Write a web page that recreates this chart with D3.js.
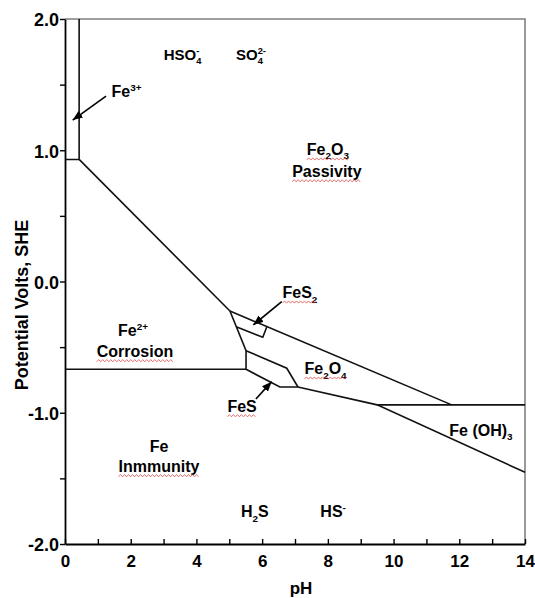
<!DOCTYPE html>
<html><head><meta charset="utf-8">
<script src="https://cdn.jsdelivr.net/npm/d3@7"></script>
<style>
body{margin:0;background:#fff}
text{font-family:"Liberation Sans",Arial,sans-serif;font-weight:bold;fill:#000}
</style>
</head><body><svg id="c" width="535" height="598"></svg>
<script>
// ---------------- data ----------------
const pHTicks = [0,1,2,3,4,5,6,7,8,9,10,11,12,13,14];
const pHTickLabels = [0,2,4,6,8,10,12,14];
const ETicks = [-2,-1.5,-1,-0.5,0,0.5,1,1.5,2];
const ETickLabels = [-2,-1,0,1,2];

// boundary polylines, each point is [pH, E (V vs SHE)]
const fe3Boundary   = [[0.43,2.0],[0.43,0.93],[0,0.93]];
const fe2Fe2O3      = [[0.43,0.93],[5.02,-0.225]];
const fes2Upper     = [[5.02,-0.225],[11.77,-0.94]];
const fes2Left      = [[5.02,-0.225],[5.51,-0.527],[5.51,-0.669]];
const feFe2         = [[0,-0.669],[5.51,-0.669]];
const fes2Fe3O4     = [[5.51,-0.527],[6.75,-0.661],[7.09,-0.804]];
const feLower       = [[5.51,-0.669],[6.54,-0.804],[7.09,-0.804],[9.50,-0.94],[14,-1.454]];
const feOH3Line     = [[9.50,-0.94],[14,-0.94]];
const fes2Box       = [[5.21,-0.344],[6.02,-0.425],[6.14,-0.347]];
const boundaries = [fe3Boundary, fe2Fe2O3, fes2Upper, fes2Left, feFe2, fes2Fe3O4, feLower, feOH3Line, fes2Box];

// annotation arrows [from, to] in [pH, E]
const arrows = [
  [[1.25,1.413],[0.234,1.23]],
  [[6.595,-0.154],[5.73,-0.331]],
  [[5.81,-0.895],[6.29,-0.763]]
];

// labels: text (_{} subscript, ^{} superscript), centre pH, baseline E
const sulfurLabels = [
  {t:"HSO_{4}^{-}", pH:3.58, E:1.688},
  {t:"SO_{4}^{2-}", pH:5.66, E:1.688}
];
const regionLabels = [
  {t:"Fe^{3+}", pH:1.87, E:1.406},
  {t:"Fe_{2}O_{3}", pH:8.0, E:0.964},
  {t:"Passivity", pH:7.97, E:0.798},
  {t:"FeS_{2}", pH:7.15, E:-0.126},
  {t:"Fe^{2+}", pH:2.07, E:-0.415},
  {t:"Corrosion", pH:2.13, E:-0.573},
  {t:"Fe_{2}O_{4}", pH:7.93, E:-0.705},
  {t:"FeS", pH:5.39, E:-0.992},
  {t:"Fe (OH)_{3}", pH:12.66, E:-1.177},
  {t:"Fe", pH:2.86, E:-1.297},
  {t:"Inmmunity", pH:2.86, E:-1.449},
  {t:"H_{2}S", pH:5.78, E:-1.798},
  {t:"HS^{-}", pH:8.16, E:-1.798}
];
const spellFlagged = ["Fe_{2}O_{3}","Passivity","FeS_{2}","Fe_{2}O_{4}","FeS","Corrosion","Inmmunity"];

const xTitle = "pH";
const yTitle = "Potential Volts, SHE";

// ---------------- chart ----------------
const svg = d3.select("#c");
const L = 65, R = 525, T = 19, B = 544;
const x = d3.scaleLinear().domain([0,14]).range([L,R]);
const y = d3.scaleLinear().domain([-2,2]).range([B,T]);

svg.append("defs").append("marker")
  .attr("id","ah").attr("markerUnits","userSpaceOnUse")
  .attr("markerWidth",11).attr("markerHeight",8)
  .attr("refX",10).attr("refY",4).attr("orient","auto")
  .append("path").attr("d","M0,0 L10,4 L0,8 Z").attr("fill","#000");

// top/right frame (grey)
svg.append("path")
  .attr("d",`M${L},${T} L${R},${T} L${R},${B}`)
  .attr("fill","none").attr("stroke","#808080").attr("stroke-width",1.6);

// boundaries
const line = d3.line().x(d=>x(d[0])).y(d=>y(d[1]));
svg.append("g").selectAll("path").data(boundaries).join("path")
  .attr("d",line).attr("fill","none").attr("stroke","#111")
  .attr("stroke-width",1.6).attr("stroke-linejoin","miter");

// arrows
svg.append("g").selectAll("line").data(arrows).join("line")
  .attr("x1",d=>x(d[0][0])).attr("y1",d=>y(d[0][1]))
  .attr("x2",d=>x(d[1][0])).attr("y2",d=>y(d[1][1]))
  .attr("stroke","#000").attr("stroke-width",1.6).attr("marker-end","url(#ah)");

// axes
const yAxis = d3.axisLeft(y).tickValues(ETicks).tickSizeInner(5).tickSizeOuter(0)
  .tickFormat(v => ETickLabels.includes(v) ? v.toFixed(1) : "");
const gy = svg.append("g").attr("transform",`translate(${L},0)`).call(yAxis);
gy.select(".domain").attr("stroke","#000").attr("stroke-width",1.8);
gy.selectAll(".tick line").attr("stroke","#000").attr("stroke-width",1.4);
gy.selectAll(".tick text").attr("x",-6).attr("dy","0.38em")
  .style("font-size","18px").style("font-family","'Liberation Sans',Arial,sans-serif").style("font-weight","bold");

const xAxis = d3.axisBottom(x).tickValues(pHTicks).tickSizeInner(-5).tickSizeOuter(0)
  .tickFormat(v => pHTickLabels.includes(v) ? String(v) : "");
const gx = svg.append("g").attr("transform",`translate(0,${B})`).call(xAxis);
gx.select(".domain").attr("stroke","#000").attr("stroke-width",1.8);
gx.selectAll(".tick line").attr("stroke","#000").attr("stroke-width",1.4);
gx.selectAll(".tick text").attr("y",23).attr("dy",null)
  .style("font-size","17px").style("font-family","'Liberation Sans',Arial,sans-serif").style("font-weight","bold");

// axis titles
svg.append("text").attr("x",(L+R)/2+6).attr("y",594).attr("text-anchor","middle")
  .style("font-size","17px").text(xTitle);
svg.append("text").attr("transform","translate(28,305) rotate(-90)")
  .attr("text-anchor","middle").style("font-size","18px").text(yTitle);

// labels with sub/superscripts
function parse(s){
  const re = /_\{([^}]*)\}\^\{([^}]*)\}|_\{([^}]*)\}|\^\{([^}]*)\}|([^_^]+)/g;
  const out=[]; let m;
  while((m=re.exec(s))){
    if(m[1]!==undefined) out.push({k:"subsup",a:m[1],b:m[2]});
    else if(m[3]!==undefined) out.push({k:"sub",a:m[3]});
    else if(m[4]!==undefined) out.push({k:"sup",a:m[4]});
    else out.push({k:"n",a:m[5]});
  }
  return out;
}
function drawLabel(lab, fs){
  const g = svg.append("g");
  const small = fs*0.62;
  let cx = 0;
  const add = (txt,dy,size)=>{
    const t = g.append("text").attr("x",cx).attr("y",dy).style("font-size",size+"px").text(txt);
    return t.node().getComputedTextLength();
  };
  parse(lab.t).forEach(tok=>{
    if(tok.k==="n") cx += add(tok.a,0,fs);
    else if(tok.k==="sub") cx += add(tok.a,fs*0.28,small);
    else if(tok.k==="sup") cx += add(tok.a,-fs*0.38,small);
    else { const w1 = add(tok.a,fs*0.28,small); const w2 = add(tok.b,-fs*0.38,small); cx += Math.max(w1,w2); }
  });
  const X = x(lab.pH) - cx/2, Y = y(lab.E);
  g.attr("transform",`translate(${X},${Y})`);
  if(spellFlagged.includes(lab.t)){
    const pts=[]; const yy = Y+4;
    for(let i=0, xx=X; xx<=X+cx; i++, xx+=2) pts.push([xx, yy + (i%2? -1.1:1.1)]);
    svg.append("path").attr("d",d3.line()(pts)).attr("fill","none")
      .attr("stroke","#d84a4a").attr("stroke-width",0.9).attr("opacity",0.85);
  }
}
sulfurLabels.forEach(l=>drawLabel(l,15));
regionLabels.forEach(l=>drawLabel(l,16));
</script>
</body></html>
